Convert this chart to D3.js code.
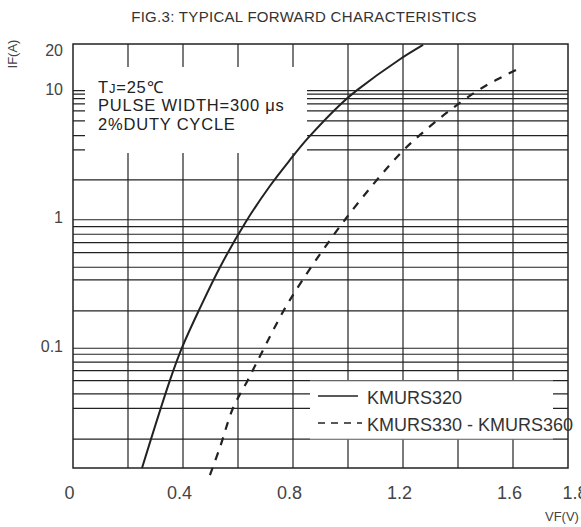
<!DOCTYPE html>
<html>
<head>
<meta charset="utf-8">
<script src="https://cdn.jsdelivr.net/npm/d3@7"></script>
<style>
  html, body { margin: 0; padding: 0; background: #fff; }
  svg { display: block; font-family: Arial, "Liberation Sans", sans-serif; }
</style>
</head>
<body>
<svg id="chart" width="581" height="527"></svg>
<script>
// values
const vfTickValues = [0, 0.4, 0.8, 1.2, 1.6, 1.8];
const vfGridValues = [0.2, 0.4, 0.6, 0.8, 1.0, 1.2, 1.4, 1.6];
const ifTickValues = [20, 10, 1, 0.1];
const ifGridValues = [
  0.0196, 0.0341, 0.0441, 0.056, 0.067, 0.078, 0.0898, 0.1,
  0.195, 0.34, 0.427, 0.555, 0.664, 0.771, 0.884, 1,
  2.04, 3.49, 4.51, 5.87, 7.03, 7.96, 8.75, 9.48, 10.1,
];
const ifDomain = [0.0117, 23.3];

const kmurs320VF = [0.251, 0.353, 0.396, 0.462, 0.535, 0.626, 0.716, 0.789, 0.855, 0.978, 1.033, 1.185, 1.273];
const kmurs320IF = [0.0117, 0.0567, 0.1005, 0.206, 0.429, 0.944, 1.83, 2.92, 4.33, 8.11, 10.2, 17.5, 22.9];

const kmurs330VF = [0.498, 0.535, 0.582, 0.636, 0.695, 0.789, 0.989, 1.185, 1.262, 1.367, 1.487, 1.611];
const kmurs330IF = [0.0103, 0.0171, 0.0343, 0.0567, 0.1005, 0.238, 1.0, 3.19, 4.57, 7.02, 10.6, 14.65];

const legendLabels = ['KMURS320', 'KMURS330 - KMURS360'];
const noteLines = ['PULSE WIDTH=300 μs', '2%DUTY CYCLE'];

const plot = { left: 73, right: 568, top: 44, bottom: 468 };
const svg = d3.select('#chart');

const x = d3.scaleLinear().domain([0, 1.8]).range([plot.left, plot.right]);
const y = d3.scaleLog().domain(ifDomain).range([plot.bottom, plot.top]);

const ink = '#222';

// grid
const grid = svg.append('g').attr('stroke', ink).attr('stroke-width', 1.2);
grid.selectAll('line.h')
  .data(ifGridValues)
  .join('line')
  .attr('class', 'h')
  .attr('x1', plot.left).attr('x2', plot.right)
  .attr('y1', (d) => y(d)).attr('y2', (d) => y(d));
grid.selectAll('line.v')
  .data(vfGridValues)
  .join('line')
  .attr('class', 'v')
  .attr('x1', (d) => x(d)).attr('x2', (d) => x(d))
  .attr('y1', plot.top).attr('y2', plot.bottom);

// white boxes behind the note and the legend
svg.append('rect').attr('x', 85).attr('y', 67).attr('width', 222).attr('height', 86).attr('fill', '#fff');
svg.append('rect').attr('x', 310).attr('y', 381).attr('width', 243).attr('height', 58).attr('fill', '#fff');
svg.append('g').attr('stroke', '#aaa').attr('stroke-width', 1)
  .selectAll('line')
  .data([381, 439])
  .join('line')
  .attr('x1', 310).attr('x2', 553)
  .attr('y1', (d) => d).attr('y2', (d) => d);

// frame
svg.append('rect')
  .attr('x', plot.left).attr('y', plot.top)
  .attr('width', plot.right - plot.left).attr('height', plot.bottom - plot.top)
  .attr('fill', 'none').attr('stroke', ink).attr('stroke-width', 1.5);

// curves
const line = d3.line()
  .x((d) => x(d[0]))
  .y((d) => y(d[1]))
  .curve(d3.curveCatmullRom.alpha(0.5));

svg.append('path')
  .datum(d3.zip(kmurs320VF, kmurs320IF))
  .attr('d', line)
  .attr('fill', 'none').attr('stroke', ink).attr('stroke-width', 2);

svg.append('path')
  .datum(d3.zip(kmurs330VF, kmurs330IF))
  .attr('d', line)
  .attr('fill', 'none').attr('stroke', ink).attr('stroke-width', 2.2)
  .attr('stroke-dasharray', '8,8');

// axes
const xAxis = svg.append('g')
  .attr('transform', `translate(0,${plot.bottom})`)
  .call(d3.axisBottom(x).tickValues(vfTickValues).tickSize(0).tickPadding(18)
    .tickFormat((d) => (d === 0 ? '0' : d3.format('.1f')(d))));
xAxis.select('.domain').remove();
xAxis.selectAll('text')
  .attr('font-size', 18).attr('fill', '#444')
  .attr('font-family', 'Arial, "Liberation Sans", sans-serif')
  .attr('dx', (d) => (d === 1.8 ? 0 : -4))
  .attr('text-anchor', (d) => (d === 1.8 ? 'start' : 'middle'))
  .attr('x', (d) => (d === 1.8 ? -6 : 0));

const yAxis = svg.append('g')
  .attr('transform', `translate(${plot.left},0)`)
  .call(d3.axisLeft(y).tickValues(ifTickValues).tickSize(0).tickPadding(10)
    .tickFormat((d) => String(d)));
yAxis.select('.domain').remove();
yAxis.selectAll('text')
  .attr('font-size', 16).attr('fill', '#444').attr('dy', '0.2em')
  .attr('font-family', 'Arial, "Liberation Sans", sans-serif');

// titles
svg.append('text')
  .attr('x', 304).attr('y', 22)
  .attr('text-anchor', 'middle')
  .attr('font-size', 15).attr('letter-spacing', 0.3).attr('fill', '#333')
  .text('FIG.3: TYPICAL FORWARD CHARACTERISTICS');

svg.append('text')
  .attr('transform', 'translate(17,54) rotate(-90)')
  .attr('text-anchor', 'middle')
  .attr('font-size', 13).attr('fill', '#444')
  .text('IF(A)');

svg.append('text')
  .attr('x', 545).attr('y', 521)
  .attr('font-size', 13).attr('fill', '#444')
  .text('VF(V)');

// note
const note = svg.append('g').attr('font-size', 16.5).attr('letter-spacing', 0.8).attr('fill', '#222');
const tj = note.append('text').attr('x', 98).attr('y', 92.5);
tj.append('tspan').text('T');
tj.append('tspan').attr('font-size', 13).text('J');
tj.append('tspan').text('=25℃');
note.selectAll('text.line')
  .data(noteLines)
  .join('text')
  .attr('class', 'line')
  .attr('x', 98)
  .attr('y', (d, i) => 111 + i * 18.5)
  .text((d) => d);

// legend
const legend = svg.append('g');
legend.append('line')
  .attr('x1', 318).attr('x2', 358).attr('y1', 396).attr('y2', 396)
  .attr('stroke', ink).attr('stroke-width', 1.5);
legend.append('line')
  .attr('x1', 318).attr('x2', 362).attr('y1', 423).attr('y2', 423)
  .attr('stroke', ink).attr('stroke-width', 1.5).attr('stroke-dasharray', '7,6');
legend.selectAll('text')
  .data(legendLabels)
  .join('text')
  .attr('x', 367)
  .attr('y', (d, i) => 404 + i * 27)
  .attr('font-size', 18).attr('fill', '#333')
  .text((d) => d);
</script>
</body>
</html>
